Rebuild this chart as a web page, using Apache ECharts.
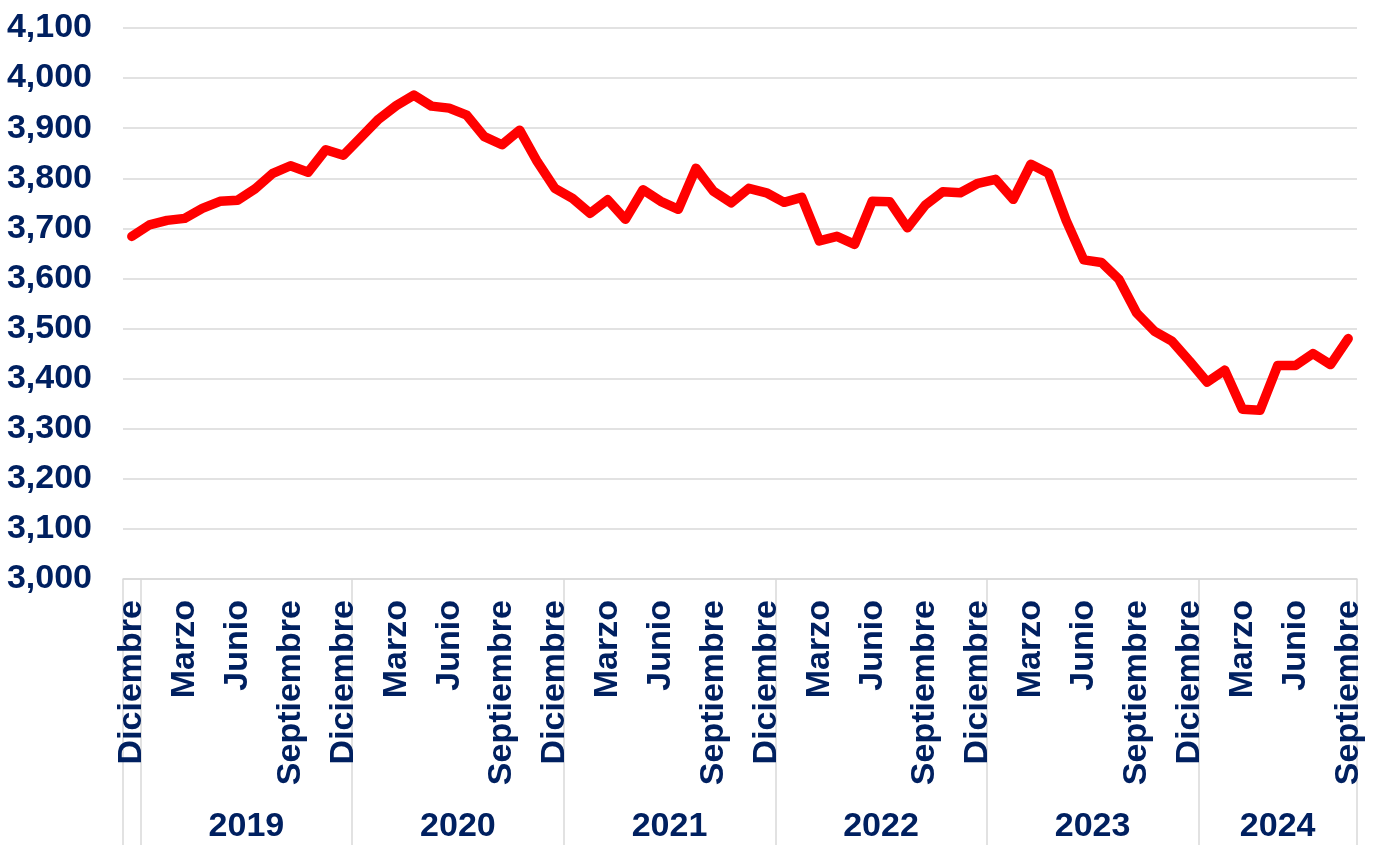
<!DOCTYPE html>
<html>
<head>
<meta charset="utf-8">
<script src="https://cdn.jsdelivr.net/npm/echarts@6/dist/echarts.min.js"></script>
<style>
html, body { margin: 0; padding: 0; background: #fff; }
#chart { width: 1379px; height: 852px; }
</style>
</head>
<body>
<div id="chart"></div>
<script>
var monthNames = ['Enero', 'Febrero', 'Marzo', 'Abril', 'Mayo', 'Junio',
	'Julio', 'Agosto', 'Septiembre', 'Octubre', 'Noviembre', 'Diciembre'];
var yearNames = ['2018', '2019', '2020', '2021', '2022', '2023', '2024'];
// serie mensual: Diciembre 2018 -> Septiembre 2024
var firstMonth = 11;
var values = [
	3684,
	3707, 3716, 3720, 3740, 3754, 3756, 3779, 3810, 3825, 3812, 3857, 3846,
	3882, 3918, 3945, 3966, 3944, 3940, 3926, 3883, 3867, 3896, 3833, 3780,
	3760, 3730, 3757, 3718, 3777, 3754, 3738, 3820, 3774, 3751, 3780, 3771,
	3752, 3762, 3675, 3684, 3668, 3754, 3753, 3701, 3746, 3773, 3771, 3790,
	3798, 3758, 3828, 3810, 3716, 3637, 3632, 3598, 3531, 3495, 3475, 3435,
	3393, 3417, 3339, 3337, 3426, 3426, 3450, 3428, 3480
];
var yMin = 3000, yMax = 4100, yStep = 100;

var navy = '#002060';
var grey = '#D9D9D9';
var font = "'Liberation Sans', Arial, sans-serif";
var gridLeft = 123, gridRight = 22;
var bandWidth = (1379 - gridLeft - gridRight) / values.length;

var months = [], yearOfMonth = [];
for (var i = 0; i < values.length; i++) {
	months.push(monthNames[(firstMonth + i) % 12]);
	yearOfMonth.push(yearNames[Math.floor((firstMonth + i) / 12)]);
}

// etiqueta de cada año centrada en su grupo de meses
var yearAxisData = months.map(function() { return ''; });
var start = 0;
for (var j = 1; j <= values.length; j++) {
	if (j === values.length || yearOfMonth[j] !== yearOfMonth[start]) {
		var end = j - 1;
		if (end - start >= 2) {
			var mid = (start + end) / 2;
			var idx = Math.ceil(mid);
			yearAxisData[idx] = {
				value: yearOfMonth[start],
				textStyle: { padding: [0, 2 * (idx - mid) * bandWidth, 0, 0] }
			};
		}
		start = j;
	}
}

var labelStyle = {
	color: navy,
	fontSize: 34,
	fontWeight: 'bold',
	fontFamily: font
};

var option = {
	animation: false,
	backgroundColor: '#fff',
	grid: {
		left: gridLeft,
		right: gridRight,
		top: 28,
		bottom: 273,
		outerBoundsMode: 'none'
	},
	xAxis: [{
		type: 'category',
		data: months,
		boundaryGap: true,
		position: 'bottom',
		axisLine: { show: true, lineStyle: { color: grey, width: 1.5 } },
		axisTick: { show: false },
		axisLabel: Object.assign({
			interval: function(index) { return index % 3 === 0; },
			rotate: 90,
			margin: 21
		}, labelStyle)
	}, {
		type: 'category',
		data: yearAxisData,
		boundaryGap: true,
		position: 'bottom',
		axisLine: { show: false },
		axisTick: {
			show: true,
			length: 266,
			interval: function(index) {
				return index === 0 || yearOfMonth[index] !== yearOfMonth[index - 1];
			},
			lineStyle: { color: grey, width: 1.5 }
		},
		axisLabel: Object.assign({
			interval: 0,
			margin: 231
		}, labelStyle)
	}],
	yAxis: {
		type: 'value',
		min: yMin,
		max: yMax,
		interval: yStep,
		axisLine: { show: false },
		axisTick: { show: false },
		splitLine: { show: true, lineStyle: { color: grey, width: 1.5 } },
		axisLabel: Object.assign({
			margin: 31,
			formatter: function(v) { return v.toLocaleString('en-US'); }
		}, labelStyle)
	},
	series: [{
		type: 'line',
		data: values,
		xAxisIndex: 0,
		symbol: 'none',
		smooth: false,
		lineStyle: { color: '#FF0000', width: 9.5, cap: 'round', join: 'round' }
	}]
};

var myChart = echarts.init(document.getElementById('chart'));
myChart.setOption(option);
</script>
</body>
</html>
